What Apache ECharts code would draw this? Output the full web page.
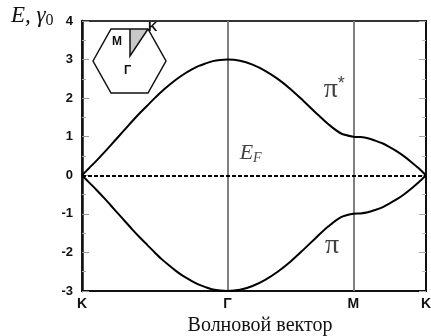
<!DOCTYPE html>
<html>
<head>
<meta charset="utf-8">
<script src="https://cdn.jsdelivr.net/npm/echarts@6/dist/echarts.min.js"></script>
<style>
  html, body { margin: 0; padding: 0; background: #fff; }
  #chart { width: 431px; height: 336px; }
</style>
</head>
<body>
<div id="chart"></div>
<script>
// wave vector along K -> Γ -> M -> K (|ΓK| = 1)
const kPath = [
  0, 0.05, 0.1, 0.15, 0.2, 0.25, 0.3, 0.35, 0.4, 0.45, 0.5, 0.55, 0.6, 0.65, 0.7, 0.75, 0.8, 0.85, 0.9, 0.95, 1,
  1.087, 1.173, 1.26, 1.346, 1.433, 1.52, 1.606, 1.693, 1.779, 1.866,
  1.916, 1.966, 2.016, 2.066, 2.116, 2.166, 2.216, 2.266, 2.316, 2.366
];
// π* band, units of γ0
const piStar = [
  0, 0.19, 0.38, 0.58, 0.79, 1.0, 1.21, 1.42, 1.62, 1.81, 2.0, 2.18, 2.34, 2.49, 2.62, 2.73, 2.83, 2.9, 2.96, 2.99, 3.0,
  2.97, 2.87, 2.71, 2.5, 2.24, 1.94, 1.63, 1.33, 1.09, 1.0,
  0.99, 0.96, 0.9, 0.83, 0.73, 0.62, 0.49, 0.34, 0.18, 0
];
// π band
const piBand = [
  0, -0.19, -0.38, -0.58, -0.79, -1.0, -1.21, -1.42, -1.62, -1.81, -2.0, -2.18, -2.34, -2.49, -2.62, -2.73, -2.83, -2.9, -2.96, -2.99, -3.0,
  -2.97, -2.87, -2.71, -2.5, -2.24, -1.94, -1.63, -1.33, -1.09, -1.0,
  -0.99, -0.96, -0.9, -0.83, -0.73, -0.62, -0.49, -0.34, -0.18, 0
];
const kTicks = [0, 1, 1.866, 2.366];
const kLabels = ["K", "Γ", "M", "K"];
const symLines = [1, 1.866];

const chart = echarts.init(document.getElementById("chart"));

function zip(xs, ys) {
  return xs.map((x, i) => [x, ys[i]]);
}

const boldSans = "Liberation Sans";
const serif = "Liberation Serif";

chart.setOption({
  animation: false,
  grid: {
    left: 82,
    right: 5,
    top: 21,
    bottom: 45,
    outerBoundsMode: "none",
    containLabel: false,
    show: true,
    borderColor: "#333",
    borderWidth: 2,
  },
  xAxis: {
    type: "value",
    min: 0,
    max: 2.366,
    splitLine: { show: false },
    axisLine: { onZero: false, lineStyle: { color: "#111", width: 2 } },
    axisTick: { show: false },
    axisLabel: {
      customValues: kTicks,
      formatter: (v) => {
        let best = 0;
        kTicks.forEach((t, i) => {
          if (Math.abs(t - v) < Math.abs(kTicks[best] - v)) best = i;
        });
        return kLabels[best];
      },
      color: "#111",
      fontWeight: "bold",
      fontFamily: boldSans,
      fontSize: 14,
      margin: 6,
    },
    name: "Волновой вектор",
    nameLocation: "middle",
    nameGap: 20,
    nameTextStyle: {
      color: "#111",
      fontFamily: serif,
      fontSize: 20,
      padding: [0, 0, 0, 12],
    },
  },
  yAxis: [
    {
      type: "value",
      min: -3,
      max: 4,
      interval: 1,
      splitLine: { show: false },
      axisLine: { show: true, lineStyle: { color: "#111", width: 2.5 } },
      axisTick: { inside: true, length: 7, lineStyle: { color: "#999" } },
      minorTick: { show: true, splitNumber: 2, length: 4, lineStyle: { color: "#aaa" } },
      axisLabel: {
        color: "#111",
        fontWeight: "bold",
        fontFamily: boldSans,
        fontSize: 13,
        margin: 9,
      },
    },
    {
      type: "value",
      position: "right",
      min: -3,
      max: 4,
      interval: 1,
      splitLine: { show: false },
      axisLine: { show: true, lineStyle: { color: "#111", width: 2 } },
      axisTick: { inside: true, length: 7, lineStyle: { color: "#aaa" } },
      minorTick: { show: true, splitNumber: 2, length: 4, lineStyle: { color: "#bbb" } },
      axisLabel: { show: false },
    },
  ],
  series: [
    {
      name: "π*",
      type: "line",
      data: zip(kPath, piStar),
      smooth: 0.3,
      showSymbol: false,
      lineStyle: { color: "#000", width: 2 },
      z: 5,
      markLine: {
        silent: true,
        symbol: "none",
        label: { show: false },
        data: [
          ...symLines.map((x) => ({
            xAxis: x,
            lineStyle: { color: "#808080", width: 2, type: "solid" },
          })),
          {
            yAxis: 0,
            lineStyle: { color: "#000", width: 2, type: [4, 2] },
          },
        ],
      },
    },
    {
      name: "π",
      type: "line",
      data: zip(kPath, piBand),
      smooth: 0.3,
      showSymbol: false,
      lineStyle: { color: "#000", width: 2 },
      z: 5,
    },
    {
      name: "labels",
      type: "scatter",
      symbolSize: 0,
      silent: true,
      data: [
        { value: [1.735, 2.22], label: { formatter: "{p|π}{s|*}" } },
        { value: [1.72, -1.83], label: { formatter: "{p|π}" } },
        { value: [1.16, 0.57], label: { formatter: "{e|E}{f|F}" } },
      ],
      label: {
        show: true,
        position: "inside",
        color: "#111",
        rich: {
          p: { fontFamily: serif, fontSize: 28, color: "#111" },
          s: { fontFamily: boldSans, fontSize: 18, color: "#111", padding: [0, 0, 12, 0] },
          e: { fontFamily: serif, fontStyle: "italic", fontSize: 22, color: "#111" },
          f: { fontFamily: serif, fontStyle: "italic", fontSize: 14, color: "#111", padding: [10, 0, 0, 0] },
        },
      },
    },
  ],
  graphic: [
    {
      type: "text",
      left: 11,
      top: 4,
      style: {
        text: "{e|E, γ}{z|0}",
        rich: {
          e: { fontFamily: serif, fontStyle: "italic", fontSize: 23, fill: "#111" },
          z: { fontFamily: serif, fontSize: 16, fill: "#111", padding: [10, 0, 0, 0] },
        },
      },
    },
    // Brillouin zone inset
    {
      type: "polygon",
      shape: { points: [[130, 29], [148, 29], [130, 56]] },
      style: { fill: "#c8c8c8", stroke: "none" },
      z: 10,
    },
    {
      type: "polygon",
      shape: { points: [[93, 61], [111, 29], [148, 29], [166, 61], [148, 93], [111, 93]] },
      style: { fill: "none", stroke: "#111", lineWidth: 1.5 },
      z: 11,
    },
    {
      type: "polyline",
      shape: { points: [[148, 29], [130, 56], [130, 29]] },
      style: { stroke: "#111", lineWidth: 1.5, fill: "none" },
      z: 11,
    },
    {
      type: "text",
      x: 112,
      y: 36,
      z: 12,
      style: { text: "M", fontFamily: boldSans, fontWeight: "bold", fontSize: 12, fill: "#111" },
    },
    {
      type: "text",
      x: 148,
      y: 21,
      z: 12,
      style: { text: "K", fontFamily: boldSans, fontWeight: "bold", fontSize: 13, fill: "#111" },
    },
    {
      type: "text",
      x: 124,
      y: 65,
      z: 12,
      style: { text: "Γ", fontFamily: boldSans, fontWeight: "bold", fontSize: 12, fill: "#111" },
    },
  ],
});
</script>
</body>
</html>
